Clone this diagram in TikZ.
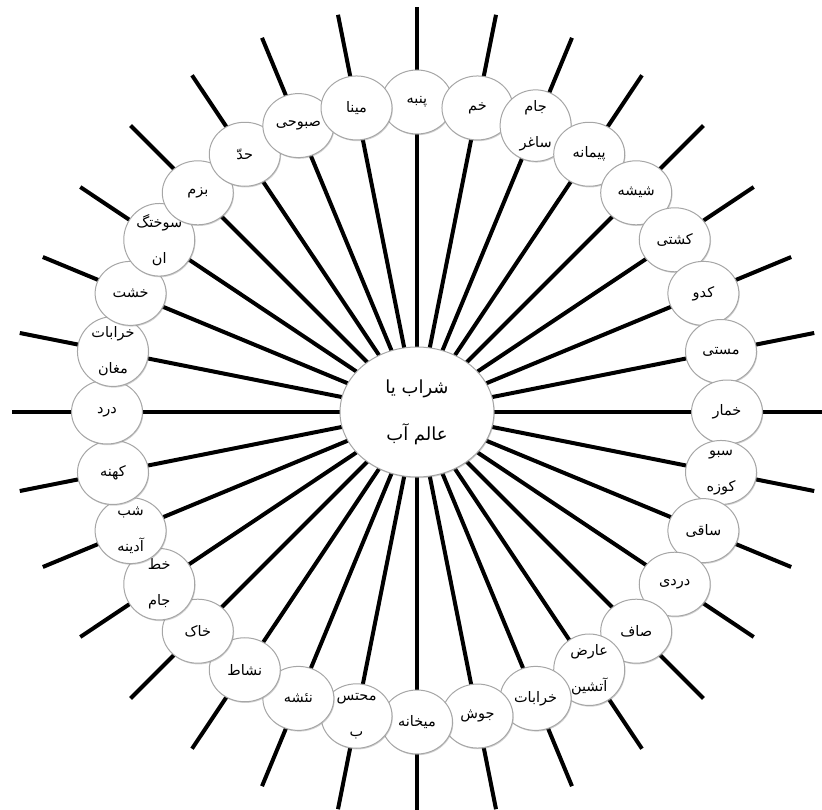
\documentclass[tikz,border=0pt]{standalone}
\usepackage{fontspec}
\newfontfamily\arabicfont[Script=Arabic]{DejaVu Sans}
\TeXXeTstate=1
\usetikzlibrary{shapes.geometric,shadows}

\newcommand{\fa}[1]{\beginR #1\endR}

\tikzset{
  spoke/.style={line width=4pt},
  word/.style={ellipse, draw=gray!70, line width=1pt, fill=white, inner sep=0pt,
    minimum width=71pt, minimum height=64pt, align=center,
    font=\arabicfont\fontsize{14.5}{36}\selectfont,
    drop shadow={shadow xshift=0.8pt, shadow yshift=-1.2pt, opacity=0.35}},
  hub/.style={word, minimum width=154pt, minimum height=130pt,
    font=\arabicfont\fontsize{18}{47}\selectfont}
}

\begin{document}
\begin{tikzpicture}[x=1pt, y=1pt]
    \useasboundingbox (-417,-397) rectangle (405,412);

    % middle of the wheel
    \coordinate (o) at (0,0);

    % spokes
    \foreach \i in {0,...,31}{
        \coordinate (e\i) at ({90-\i*11.25}:405);
        \draw[spoke] (o) -- (e\i);
    }

    % ring of words, clockwise from the top
    \foreach \txt [count=\i from 0] in {
        {\fa{پنبه}}, {\fa{خم}}, {\fa{جام}\\\fa{ساغر}}, {\fa{پیمانه}},
        {\fa{شیشه}}, {\fa{کشتی}}, {\fa{کدو}}, {\fa{مستی}},
        {\fa{خمار}}, {\fa{سبو}\\\fa{کوزه}}, {\fa{ساقی}}, {\fa{دردی}},
        {\fa{صاف}}, {\fa{عارض}\\\fa{آتشین}}, {\fa{خرابات}}, {\fa{جوش}},
        {\fa{میخانه}}, {\fa{محتس}\\\fa{ب}}, {\fa{نئشه}}, {\fa{نشاط}},
        {\fa{خاک}}, {\fa{خط}\\\fa{جام}}, {\fa{شب}\\\fa{آدینه}}, {\fa{کهنه}},
        {\fa{درد}}, {\fa{خرابات}\\\fa{مغان}}, {\fa{خشت}}, {\fa{سوختگ}\\\fa{ان}},
        {\fa{بزم}}, {\fa{حدّ}}, {\fa{صبوحی}}, {\fa{مینا}}}{
        \node[word] (w\i) at ({90-\i*11.25}:310) {\txt};
    }

    % centre
    \node[hub] (c) at (o) {\fa{شراب یا}\\\fa{عالم آب}};
\end{tikzpicture}
\end{document}
